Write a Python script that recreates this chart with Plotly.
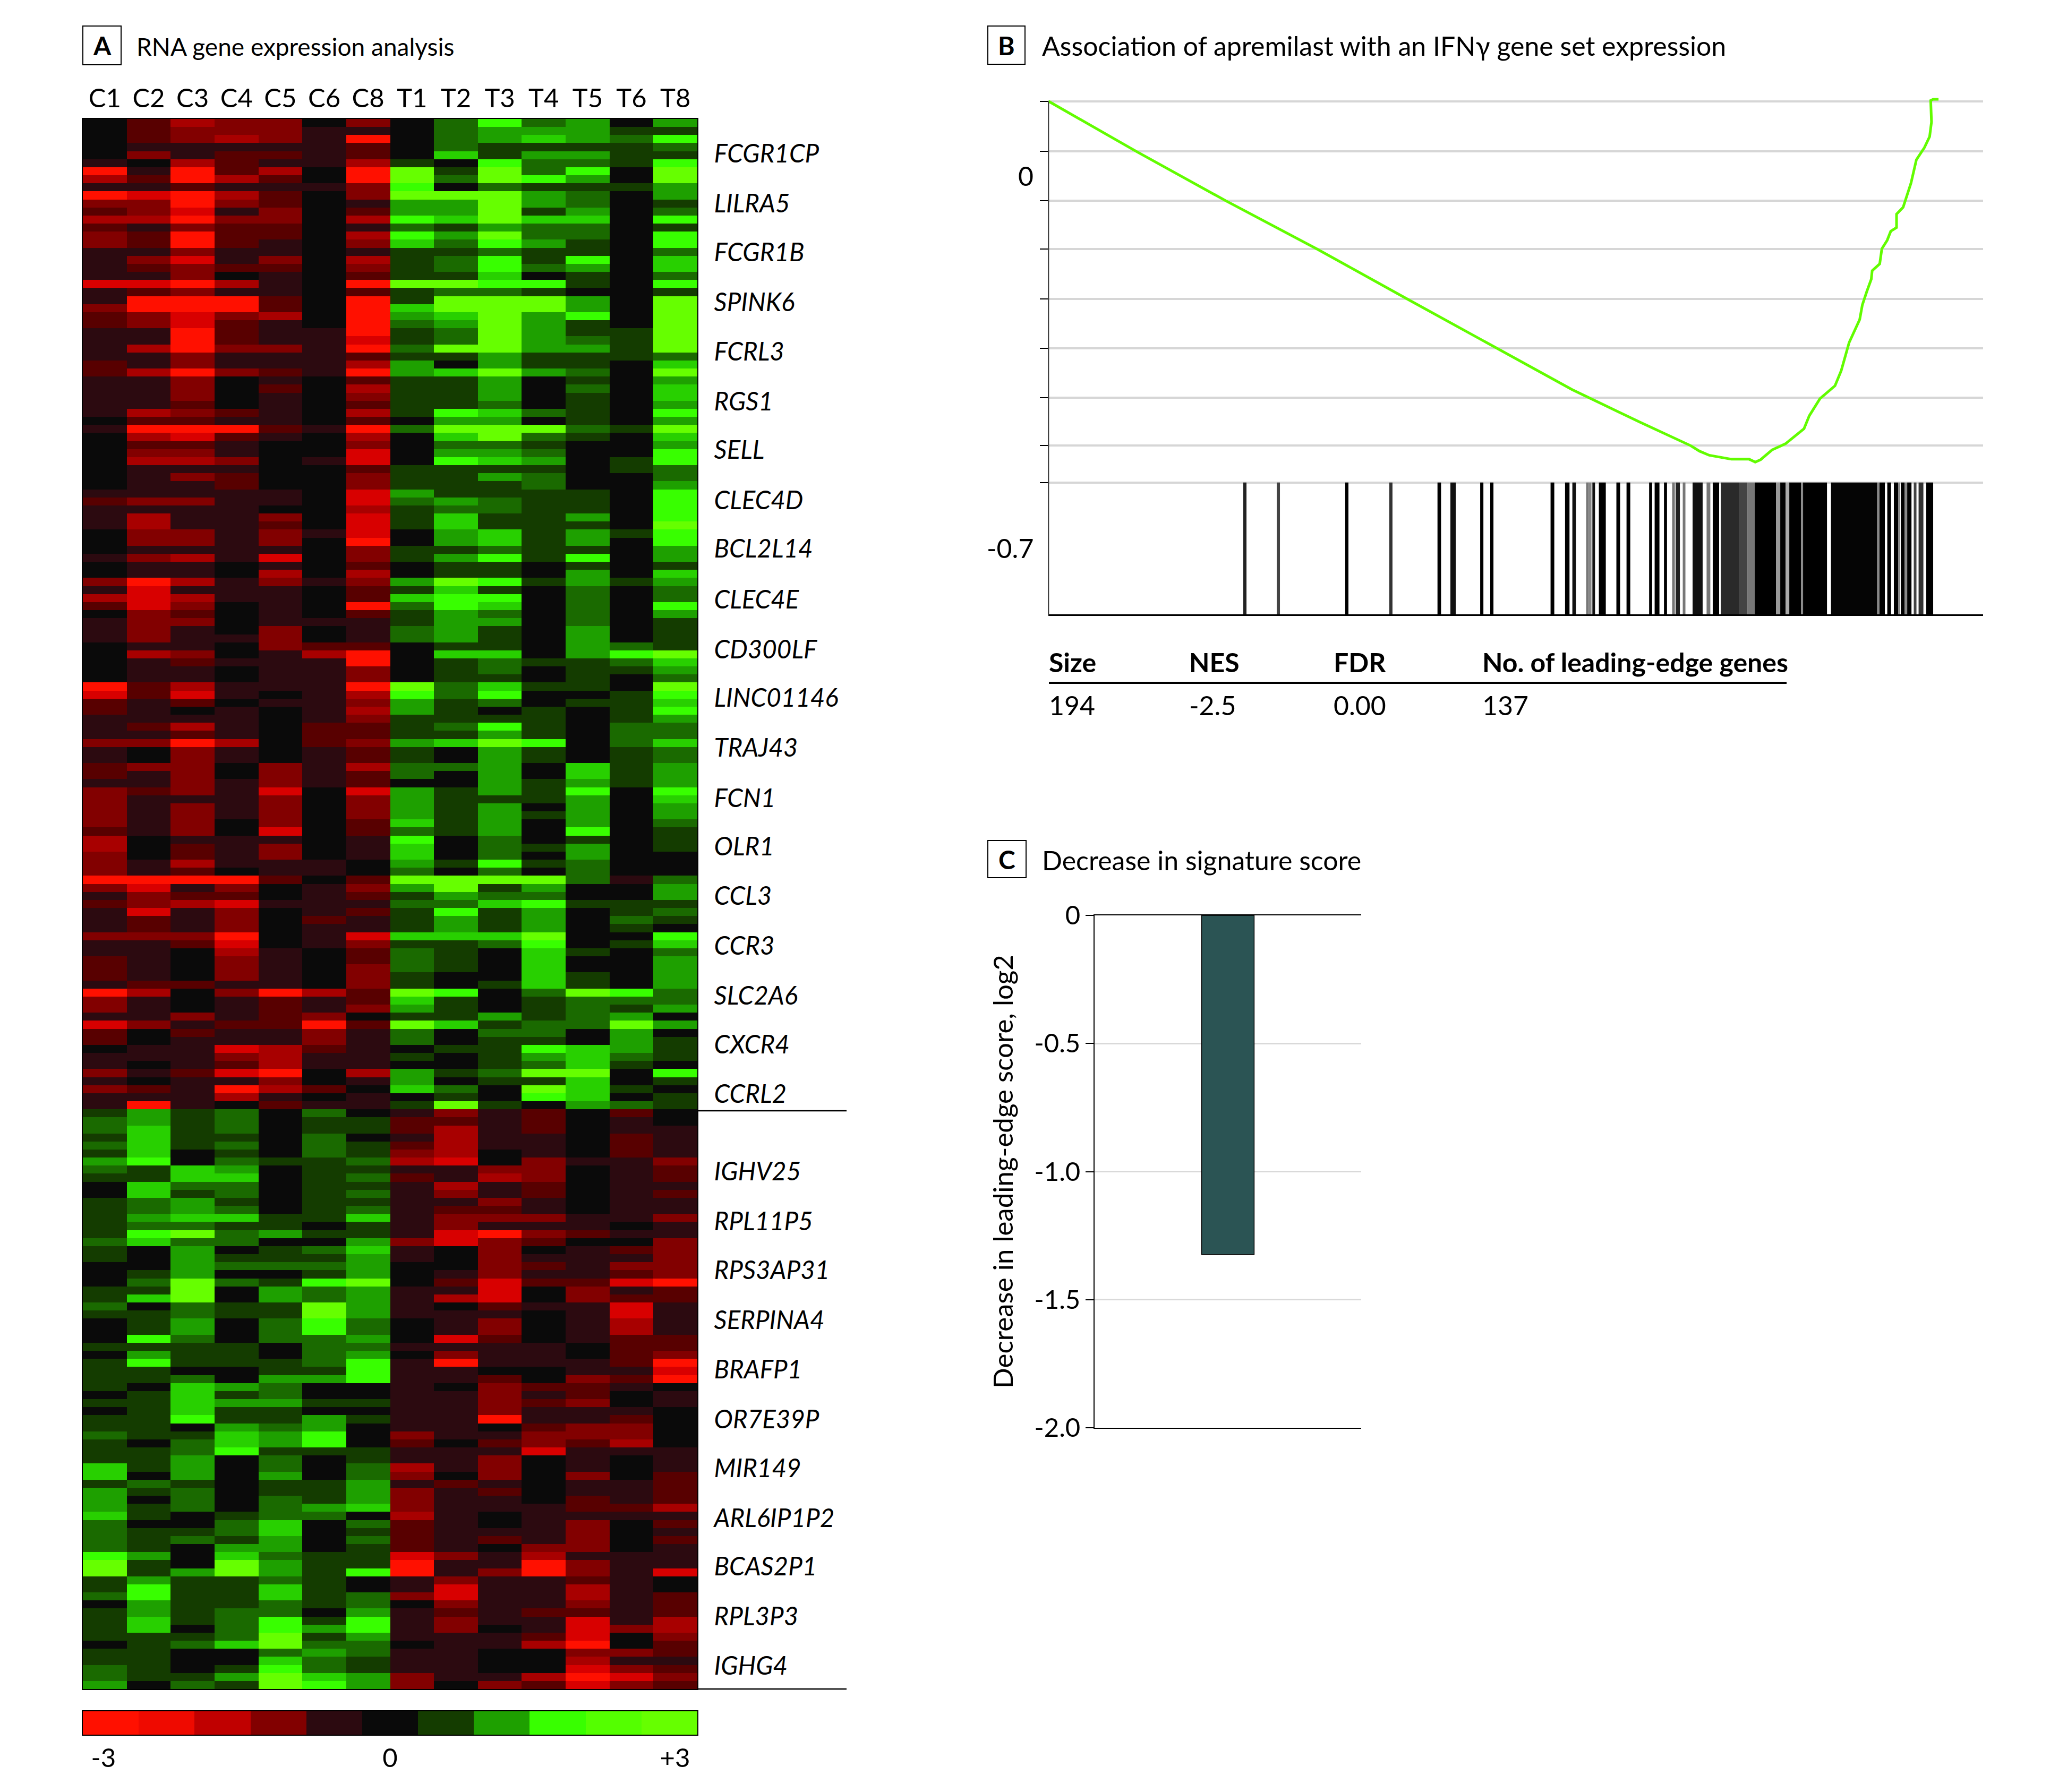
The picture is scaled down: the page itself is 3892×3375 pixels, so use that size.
import plotly.graph_objects as go

W, H = 3892, 3375
FONT = "Lato, Roboto, sans-serif"

SAMPLES = ["C1", "C2", "C3", "C4", "C5", "C6", "C8", "T1", "T2", "T3", "T4", "T5", "T6", "T8"]

# expression level per row, in half units (-6 = -3, +6 = +3)
ROWS_UPPER = [
[0,-2,-4,-3,-3,0,-3,0,2,5,2,3,0,3],[0,-2,-3,-3,-3,-1,-1,0,2,3,3,3,1,1],[0,-2,-3,-4,-3,-1,-6,0,2,3,4,3,2,5],
[0,-1,-1,-1,-1,-1,-2,0,2,1,1,1,1,2],[0,-3,-1,-2,-2,-1,-2,0,4,1,3,3,1,1],[-1,0,-4,-2,-1,-1,-4,1,0,5,2,2,1,5],
[-6,-1,-6,-2,-4,0,-6,6,1,6,2,5,0,6],[-4,-2,-6,-4,-2,0,-6,6,2,6,5,3,0,6],[-1,-1,-2,-1,-1,-1,-3,5,0,2,1,1,1,3],
[-6,-5,-6,-4,-2,0,-3,6,6,6,3,2,0,3],[-3,-3,-6,-3,-2,0,-1,3,3,6,3,2,0,1],[-2,-3,-5,-1,-3,0,-2,3,3,6,1,3,0,2],
[-4,-4,-6,-3,-3,0,-4,5,4,6,4,4,0,5],[-2,-1,-3,-2,-2,0,-1,2,1,3,2,2,0,1],[-3,-2,-6,-2,-2,0,-4,5,3,6,2,2,0,5],
[-3,-2,-6,-2,-1,0,-3,4,2,5,3,1,0,5],[-1,-1,-3,-1,-1,0,-1,1,1,2,1,1,0,2],[-1,-3,-5,-1,-3,0,-4,1,2,5,1,5,0,4],
[-1,-2,-3,-2,-2,0,-3,1,2,5,2,3,0,4],[-1,-1,-3,0,-1,0,-2,1,1,4,0,1,0,2],[-5,-5,-6,-4,-1,0,-6,6,6,5,5,1,0,5],
[-1,-2,-3,-1,-1,0,-2,1,2,2,1,0,0,1],[-1,-6,-6,-6,-2,0,-6,1,6,6,6,3,0,6],[-3,-6,-6,-6,-2,0,-6,4,6,6,6,3,0,6],
[-2,-3,-5,-3,-4,0,-6,3,4,6,3,5,0,6],[-2,-3,-5,-2,-1,0,-6,2,3,6,3,1,0,6],[-1,-1,-6,-2,-1,-1,-6,1,2,6,3,1,1,6],
[-1,-1,-6,-2,-1,-1,-5,1,2,6,3,2,1,6],[-1,-4,-6,-3,-3,-1,-6,2,6,6,3,3,1,6],[-1,-1,-3,-1,-1,-1,-2,1,1,3,1,1,1,2],
[-2,-1,-3,-1,-1,-1,-4,3,0,3,1,1,0,4],[-2,-4,-6,-3,-2,-1,-6,3,4,6,3,2,0,6],[-1,-1,-3,0,-1,0,-2,1,1,3,0,1,0,3],
[-1,-1,-3,0,-2,0,-4,1,1,3,0,2,0,4],[-1,-1,-3,0,-1,0,-3,1,1,3,0,1,0,4],[-1,-1,-2,0,-1,0,-2,1,1,2,0,1,0,3],
[-1,-4,-3,-2,-1,0,-4,1,5,4,2,1,0,5],[0,-2,-2,-1,-1,0,-2,0,3,3,0,1,0,3],[-1,-6,-6,-6,-2,-1,-6,2,6,6,6,2,1,6],
[0,-4,-5,-2,-1,0,-4,0,4,6,2,1,0,4],[0,-2,-2,-1,0,0,-3,0,2,2,1,0,0,3],[0,-3,-3,-1,0,0,-5,0,3,3,2,0,0,5],
[0,-4,-4,-3,0,-1,-5,0,5,4,3,0,1,5],[0,-1,-1,-1,0,0,-2,1,1,1,1,0,1,2],[0,-1,-3,-2,0,0,-3,1,1,3,2,0,0,2],
[0,-1,-1,-2,0,0,-3,1,1,1,2,0,0,3],[-1,-1,-1,-1,-1,0,-5,3,1,1,1,1,0,5],[-2,-3,-3,-1,-1,0,-5,2,3,2,1,1,0,5],
[-1,-1,-1,-1,0,0,-4,1,2,2,1,1,0,5],[-1,-4,-1,-1,-3,0,-5,1,4,1,1,3,0,5],[-1,-4,-1,-1,-2,0,-5,1,4,1,1,1,0,6],
[0,-3,-3,-1,-3,-1,-5,0,3,4,1,3,1,5],[0,-3,-3,-1,-3,0,-6,0,3,4,1,3,0,5],[0,-1,-1,-1,-1,0,-3,1,1,2,1,1,0,3],
[-1,-3,-4,-1,-5,0,-3,1,3,5,1,5,0,3],[0,-1,-1,0,-1,0,-2,0,1,1,0,1,0,1],[0,-1,-1,0,-4,0,-4,0,1,1,0,3,0,4],
[-3,-6,-4,-1,-3,-1,-3,3,6,5,1,3,1,3],[-1,-5,-1,-1,-1,0,-2,1,4,1,0,2,0,2],[-4,-5,-4,-1,-1,0,-2,4,5,5,0,2,0,2],
[-2,-5,-3,0,-1,0,-6,2,5,4,0,2,0,5],[0,-3,-2,0,-1,0,-2,1,3,2,0,2,0,3],[-1,-3,-3,0,-1,-1,-1,1,3,3,0,2,0,1],
[-1,-3,-1,0,-3,0,-1,2,3,1,0,3,0,1],[-1,-3,-1,-1,-3,0,-1,2,3,1,0,3,0,1],[0,-1,-1,0,-3,-2,-2,0,1,1,0,3,2,1],
[0,-4,-3,0,-1,-4,-6,0,4,4,0,3,5,6],[0,-1,-2,-1,-1,-1,-6,0,1,2,1,1,2,4],[0,-1,-1,0,-1,-1,-3,0,1,2,0,1,1,3],
[0,-1,-1,0,-1,-1,-3,0,1,1,0,1,0,2],[-6,-2,-4,-1,-1,-1,-6,6,2,4,1,1,0,6],[-5,-2,-5,-1,0,-1,-4,5,2,5,0,0,1,5],
[-2,-1,-2,0,-1,-1,-3,3,1,2,0,1,1,4],[-2,-1,0,-1,0,-1,-4,3,1,0,1,0,1,5],[-1,-1,-1,-1,0,-1,-3,1,1,1,1,0,1,3],
[-1,-2,-4,-1,0,-2,-2,1,2,5,1,0,2,2],[-1,-1,-2,-1,0,-2,-2,1,1,3,1,0,2,2],[-3,-3,-6,-4,0,-2,-3,3,4,6,5,0,2,4],
[-1,0,-3,-1,0,-1,-2,1,0,3,1,0,1,2],[-1,0,-3,-1,0,-1,-2,1,0,3,1,0,1,2],[-2,-3,-3,0,-3,-1,-4,2,2,3,0,4,1,3],
[-2,-1,-3,0,-3,-1,-2,2,0,3,0,4,1,3],[-1,-1,-3,-1,-3,-1,-2,0,0,3,1,3,1,3],[-3,-2,-3,-1,-5,0,-5,3,1,3,1,5,0,5],
[-3,-1,-1,-1,-3,0,-3,3,1,1,1,3,0,4],[-3,-1,-3,-1,-3,0,-3,3,1,3,0,3,0,3],[-3,-1,-3,-1,-3,0,-3,3,1,3,1,3,0,3],
[-3,-1,-3,0,-3,0,-2,4,1,3,0,3,0,2],[-2,-1,-3,0,-5,0,-2,2,1,3,0,5,0,1],[-4,0,-1,-1,-1,0,-1,5,0,2,0,1,0,1],
[-4,0,-2,-1,-3,0,-1,4,0,2,1,3,0,1],[-3,0,-2,-1,-3,0,-1,4,0,2,0,3,0,0],[-3,-1,-4,-1,-1,-1,0,3,1,5,1,2,0,0],
[-3,-1,-2,0,-1,-1,0,2,0,2,0,2,0,0],[-6,-6,-6,-6,-2,0,-2,6,6,6,6,2,-1,2],[-3,-5,-1,-3,0,-1,-3,3,6,1,3,0,0,3],
[-1,-3,-2,-2,0,-1,-2,1,3,2,2,0,0,3],[-2,-3,-4,-5,-1,-1,-1,2,2,4,5,1,1,1],[-1,-5,-1,-3,0,-1,-2,1,5,1,3,0,1,2],
[-1,-2,-1,-3,0,-2,-1,1,3,1,3,0,2,1],[-1,-2,-1,-3,0,-1,-1,1,3,1,3,0,1,0],[-3,-3,-3,-6,0,-1,-5,4,4,4,6,0,0,5],
[-1,-1,-2,-5,0,-1,-3,1,1,2,5,0,1,4],[-1,-1,0,-4,-1,0,-2,2,1,0,4,1,0,2],[-2,-1,0,-3,-1,0,-2,2,1,0,4,0,0,3],
[-2,-1,0,-3,-1,0,-3,2,1,0,4,0,0,3],[-2,-1,0,-3,-1,0,-3,1,0,0,4,1,0,3],[-1,-2,-2,-1,-1,0,-3,1,0,1,4,1,0,3],
[-6,-4,0,-3,-6,-4,-2,6,5,0,2,6,5,2],[-3,-1,0,-1,-2,-1,-2,4,1,0,1,2,2,2],[-3,-1,0,-1,-2,-1,-3,3,1,0,1,2,1,3],
[-1,-1,-3,-1,-2,-3,0,1,1,3,1,2,3,0],[-5,-3,-1,-2,-2,-6,-2,6,4,1,2,2,6,3],[-2,0,-2,-1,-1,-3,-1,2,0,2,2,0,3,0],
[-2,0,-1,-1,-1,-3,-1,2,0,1,1,0,3,1],[0,-1,-1,-5,-4,-2,-1,0,1,1,5,4,3,1],[-1,-1,-1,-3,-4,-1,-1,1,0,1,3,4,2,1],
[-1,0,-1,-2,-4,-1,-1,0,0,1,2,4,1,0],[-3,-1,-2,-5,-6,0,-4,3,1,2,6,6,0,5],[-1,0,-1,-1,-3,0,-1,3,0,1,1,4,0,1],
[-3,-2,-1,-6,-4,-2,0,4,2,0,6,4,1,0],[-1,-1,-1,-4,-1,0,-1,0,1,0,5,4,0,1],[-1,-6,-1,0,-2,-1,-1,1,6,1,0,3,2,1],
]
ROWS_LOWER = [
[1,3,1,2,0,2,0,-1,-3,-1,-2,0,-2,0],[2,3,1,2,0,1,1,-2,-2,-1,-2,0,-1,0],[2,4,1,2,0,1,1,-2,-4,-1,-2,0,-1,-1],
[1,4,1,1,0,2,0,-1,-4,-1,-1,0,-2,-1],[2,4,1,2,0,2,1,-2,-4,-1,-1,0,-2,-1],[1,4,0,1,0,2,1,-3,-4,0,-1,0,-2,-1],
[3,5,0,2,1,1,2,-4,-5,0,-3,-1,-1,-3],[2,1,4,3,0,1,1,-1,-1,-3,-3,0,-1,-2],[1,1,4,4,0,1,2,-2,-1,-4,-3,0,-1,-2],
[0,4,2,2,0,1,1,-1,-4,-1,-2,0,-1,-1],[0,4,1,2,0,1,2,-1,-3,-1,-2,0,-1,-2],[1,2,3,1,0,1,1,-1,-1,-3,-1,0,-1,-1],
[1,2,3,2,0,1,2,-1,-2,-2,-1,0,-1,-1],[1,3,4,4,1,1,4,-1,-3,-3,-3,-1,-1,-3],[1,2,2,1,1,0,1,-1,-3,-1,-1,-1,0,-1],
[1,5,6,2,3,1,1,-1,-5,-6,-3,-2,-1,-1],[2,4,2,2,0,0,3,-3,-5,-3,-2,0,0,-3],[1,0,3,0,1,2,4,-1,0,-3,0,-1,-2,-3],
[1,0,3,1,1,1,3,-1,0,-3,-1,-1,-1,-3],[0,0,3,2,2,2,3,0,0,-3,-2,-1,-3,-3],[0,1,3,0,0,1,3,0,-1,-3,-1,-1,-2,-3],
[0,2,6,2,1,5,6,0,-2,-5,-2,-2,-5,-6],[1,1,6,0,3,2,3,-1,-1,-5,0,-3,-1,-2],[1,4,6,0,3,2,3,-1,-4,-5,0,-3,-2,-2],
[2,0,2,1,1,6,3,-1,0,-2,-1,-1,-5,-1],[1,1,2,1,1,6,3,-1,-1,-1,0,-1,-5,-1],[0,1,3,0,2,5,2,0,-1,-3,0,-1,-4,-1],
[0,1,3,0,2,5,2,0,-1,-3,0,-1,-4,-1],[0,5,2,0,2,2,3,0,-5,-2,0,-1,-2,-2],[1,1,1,1,0,2,2,-1,-1,-1,-1,0,-2,-2],
[0,3,1,1,0,2,3,0,-3,-1,-1,0,-2,-3],[1,5,1,1,1,2,5,-1,-6,-1,-1,-1,-2,-6],[1,1,0,0,1,1,5,-1,-1,0,0,-1,-1,-5],
[1,1,2,0,3,3,5,-1,-1,-2,0,-3,-2,-6],[1,0,4,3,2,0,0,-1,0,-3,-2,-2,-1,0],[0,1,4,1,2,0,0,-1,-1,-3,-1,-2,0,-1],
[1,1,4,3,3,1,1,-1,-1,-3,-2,-3,0,-1],[0,1,4,1,1,0,0,-1,-1,-3,-1,-1,-1,0],[1,1,5,1,1,3,1,-1,-1,-6,-1,-1,-2,0],
[1,1,0,3,2,3,0,-1,-1,0,-2,-3,-3,0],[2,1,1,4,3,5,0,-3,-1,-1,-3,-3,-3,0],[1,0,2,4,3,5,0,-2,0,-2,-3,-2,-4,0],
[1,1,2,5,1,1,1,-1,-1,-1,-5,-1,-1,-1],[1,1,3,0,2,0,1,-1,-1,-3,0,-1,0,-1],[4,1,3,0,2,0,2,-4,-1,-3,0,-1,0,-1],
[4,0,3,0,3,0,2,-3,0,-3,0,-3,0,-2],[1,2,1,0,1,1,3,-1,-2,-1,0,-1,-1,-2],[3,1,2,0,1,1,3,-3,-1,-2,0,-1,-1,-2],
[3,0,2,0,2,1,3,-3,-1,-1,0,-2,-1,-2],[3,1,2,0,2,3,4,-3,-1,-1,-1,-2,-2,-4],[4,1,0,1,2,2,0,-4,-1,0,-1,-1,-1,-1],
[2,0,0,2,4,0,2,-2,-1,0,-1,-3,0,-2],[2,1,1,2,4,0,1,-2,-1,-1,-1,-3,0,-1],[2,1,2,1,3,0,2,-2,-1,-2,-1,-3,0,-2],
[2,1,0,3,3,0,1,-2,-1,0,-3,-3,0,-1],[5,3,0,4,2,1,1,-5,-3,-1,-4,-1,-1,-1],[6,1,0,6,3,1,1,-6,-1,-1,-6,-3,-1,-1],
[6,1,3,6,3,1,5,-6,-1,-3,-6,-3,-1,-5],[1,3,1,1,2,1,0,-1,-3,-1,-1,-2,-1,0],[1,5,1,1,4,1,0,-1,-5,-1,-1,-4,-1,0],
[2,5,1,1,4,1,2,-3,-5,-1,-1,-4,-1,-2],[0,3,1,1,2,1,2,0,-3,-1,-1,-3,-1,-2],[1,3,1,2,2,0,3,-1,-2,-1,-2,-2,-1,-2],
[1,4,1,2,5,1,5,-1,-3,-1,-1,-5,-1,-4],[1,4,0,2,5,3,5,-1,-3,0,-1,-5,-3,-4],[1,1,1,2,6,1,3,-1,-1,-1,-2,-5,0,-3],
[0,1,2,4,6,2,2,0,-1,-1,-4,-6,0,-2],[1,1,0,0,2,3,2,-1,-1,0,0,-3,-3,-2],[1,1,0,0,4,2,1,-1,-1,0,0,-4,-1,-1],
[2,1,0,1,5,2,1,-1,-1,0,0,-5,-3,-2],[2,1,1,3,6,4,3,-3,-1,-1,-4,-6,-5,-3],[3,0,2,1,6,5,3,-3,0,-3,-2,-5,-3,-2],
]

GENES = ["FCGR1CP", "LILRA5", "FCGR1B", "SPINK6", "FCRL3", "RGS1", "SELL", "CLEC4D", "BCL2L14", "CLEC4E", "CD300LF",
         "LINC01146", "TRAJ43", "FCN1", "OLR1", "CCL3", "CCR3", "SLC2A6", "CXCR4", "CCRL2",
         "IGHV25", "RPL11P5", "RPS3AP31", "SERPINA4", "BRAFP1", "OR7E39P", "MIR149", "ARL6IP1P2", "BCAS2P1", "RPL3P3", "IGHG4"]
GENE_ROWS = [3.8, 10.04, 16.1, 22.3, 28.4, 34.6, 40.6, 46.9, 52.9, 59.2, 65.4, 71.4, 77.6, 83.9, 89.9, 96, 102.2, 108.4,
             114.5, 120.6, 130.2, 136.4, 142.5, 148.7, 154.8, 161, 167.1, 173.3, 179.3, 185.5, 191.6]

LEVEL_COLORS = ["#ff1000", "#d80000", "#a80000", "#820000", "#580000", "#2c0a10", "#0a0a0a",
                "#143c00", "#1a6a00", "#1ea000", "#28d000", "#38ff00", "#66ff00"]
LEGEND_LEVELS = [-6, -5.6, -4.5, -3, -1, 0, 1, 3, 5, 5.6, 6]
LEGEND_TICKS = [-0.13, 5, 10.1]
LEGEND_LABELS = ["-3", "0", "+3"]

# Panel B: running enrichment score against percent of the ranked list
ES_RANK = [0, 9.91, 19.92, 30.2, 40.3, 50.39, 58.87, 66.49, 72.2, 73.19, 74.29, 76.78, 78.77, 79.46, 80.06, 81.35, 82.85,
           84.94, 85.53, 86.73, 88.42, 89.12, 90.01, 91.2, 91.5, 92, 92.5, 92.6, 93.45, 93.69, 94.29, 94.69, 95.34, 95.34,
           96.08, 96.97, 97.57, 98.47, 99.06, 99.27, 99.18, 99.46, 100.06]
ES_VALUE = [.1404, .0456, -.0468, -.1377, -.2314, -.3246, -.4022, -.4635, -.5077, -.5180, -.5258, -.5332, -.5332, -.5386,
            -.5341, -.5157, -.5042, -.4758, -.4515, -.4194, -.3951, -.3666, -.3139, -.2703, -.2428, -.2176, -.1946, -.1786,
            -.1657, -.1373, -.1213, -.1043, -.0974, -.0721, -.0593, -.0135, .0301, .0530, .0737, .1012, .1416, .1439, .1439]
HIT_RANK = [22.09, 25.85, 33.55, 38.5, 43.94, 45.49, 48.72, 49.85, 56.66, 58.33, 59.1, 60.6, 60.9, 61.3, 62.27, 64.06, 65.2,
            67.7, 68.42, 69.37, 70.27, 70.75, 71.46, 72.98, 74.2, 75.04, 76.6, 78.09, 78.99, 80.6, 82.03, 82.57, 83.07,
            83.94, 84.72, 86.18, 90.57, 93.31, 93.73, 94.51, 95.28, 95.64, 96.03, 96.39, 96.78, 97.43, 98.09, 99.07]
HIT_WIDTH = [.36, .36, .36, .36, .4, .6, .36, .36, .42, .5, .4, .3, .3, .3, .78, .42, .42,
             .34, .54, .34, .3, .48, .3, 1.13, .42, .72, 2.03, .96, .84, 2.39, .48, .6, .42,
             1.31, .24, 2.69, 5.19, .24, .6, .42, .48, .24, .42, .3, .48, .3, .54, .78]
HIT_SHADE = ["#222", "#444", "#000", "#333", "#000", "#111", "#000", "#000", "#000", "#000", "#111", "#777", "#888", "#111",
             "#000", "#000", "#000", "#000", "#000", "#000", "#777", "#222", "#777", "#111", "#777", "#000", "#2a2a2a", "#444",
             "#777", "#000", "#999", "#000", "#aaa", "#000", "#888", "#000", "#050505", "#888", "#000", "#000", "#000",
             "#888", "#000", "#888", "#000", "#444", "#333", "#000"]
ES_GRID = [.1404, .0456, -.0468, -.1377, -.2314, -.3246, -.4176, -.5077, -.577]
HIT_TOP = -0.577
ES_BOTTOM = -0.825
ES_TOP = 0.1489
TABLE_HEAD = ["Size", "NES", "FDR", "No. of leading-edge genes"]
TABLE_VALS = ["194", "-2.5", "0.00", "137"]

# Panel C
SCORE = [-1.324]
SCORE_TICKS = [0, -0.5, -1.0, -1.5, -2.0]
SCORE_LABELS = ["0", "-0.5", "-1.0", "-1.5", "-2.0"]


def fx(px):
    return px / W


def fy(py):
    return 1 - py / H


fig = go.Figure()
scale = [[i / 12, c] for i, c in enumerate(LEVEL_COLORS)]
matrix = ROWS_UPPER + ROWS_LOWER

fig.add_trace(go.Heatmap(z=matrix, x=SAMPLES, y=list(range(len(matrix))), zmin=-6, zmax=6, colorscale=scale,
                         showscale=False, hoverinfo="skip", xaxis="x", yaxis="y"))
fig.add_trace(go.Heatmap(z=[LEGEND_LEVELS], zmin=-6, zmax=6, colorscale=scale, showscale=False, hoverinfo="skip",
                         xaxis="x2", yaxis="y2"))
fig.add_trace(go.Bar(x=HIT_RANK, width=HIT_WIDTH, base=ES_BOTTOM, y=[HIT_TOP - ES_BOTTOM] * len(HIT_RANK),
                     marker=dict(color=HIT_SHADE, line_width=0), xaxis="x3", yaxis="y3", hoverinfo="skip"))
fig.add_trace(go.Scatter(x=ES_RANK, y=ES_VALUE, mode="lines", line=dict(color="#62fc00", width=5),
                         xaxis="x3", yaxis="y3", hoverinfo="skip"))
fig.add_trace(go.Bar(x=[0.5], y=SCORE, width=0.197, marker=dict(color="#2b5454", line=dict(color="#000", width=1.5)),
                     xaxis="x4", yaxis="y4", hoverinfo="skip"))

line = dict(showline=True, linecolor="#000", automargin=False)
fig.update_layout(
    width=W, height=H, autosize=False, margin=dict(l=0, r=0, t=0, b=0, pad=0), paper_bgcolor="white",
    plot_bgcolor="white", showlegend=False, font=dict(family=FONT, size=50, color="#000"), barmode="overlay",
    xaxis=dict(domain=[fx(156), fx(1313)], side="top", type="category", ticks="", anchor="y", mirror=True,
               linewidth=2, ticklabelstandoff=0, tickfont=dict(size=49), showgrid=False, **line),
    yaxis=dict(domain=[fy(3181), fy(224)], side="right", range=[len(matrix) - 0.5, -0.5], anchor="x", mirror=True,
               linewidth=2, tickmode="array", tickvals=GENE_ROWS, ticktext=[f"<i>{g}</i>" for g in GENES], ticks="",
               ticklabelstandoff=20, tickfont=dict(size=47.5), showgrid=False, zeroline=False, **line),
    xaxis2=dict(domain=[fx(156), fx(1313)], anchor="y2", range=[-0.5, 10.5], tickmode="array", tickvals=LEGEND_TICKS,
                ticktext=LEGEND_LABELS, ticks="", ticklabelstandoff=0, mirror=True, linewidth=2, showgrid=False,
                zeroline=False, tickfont=dict(size=49), **line),
    yaxis2=dict(domain=[fy(3267), fy(3223)], anchor="x2", showticklabels=False, ticks="", mirror=True, linewidth=2,
                showgrid=False, zeroline=False, **line),
    xaxis3=dict(domain=[fx(1974), fx(3734)], anchor="y3", range=[0, 105.07], showticklabels=False, ticks="",
                showgrid=False, zeroline=False, linewidth=3, **line),
    yaxis3=dict(domain=[fy(1157), fy(182)], anchor="x3", range=[ES_BOTTOM, ES_TOP], tickmode="array",
                tickvals=ES_GRID, showticklabels=False, ticks="outside", ticklen=15, tickwidth=2, tickcolor="#000",
                showgrid=True, gridcolor="#d6d6d6", gridwidth=3.5, zeroline=False, showline=False, automargin=False),
    xaxis4=dict(domain=[fx(2061), fx(2563)], anchor="y4", range=[0, 1], showticklabels=False, ticks="", mirror=True,
                showgrid=False, zeroline=False, linewidth=2, **line),
    yaxis4=dict(domain=[fy(2689), fy(1724)], anchor="x4", range=[-2, 0], tickmode="array", tickvals=SCORE_TICKS,
                ticktext=SCORE_LABELS, ticks="outside", ticklen=15, tickwidth=2, tickcolor="#000", showgrid=True,
                gridcolor="#d9d9d9", gridwidth=3, zeroline=False, linewidth=2, tickfont=dict(size=49), **line,
                title=dict(text="Decrease in leading-edge score, log2", font=dict(size=51), standoff=24)),
)


def text(px, py, s, size=50, anchor="left", bold=False):
    fig.add_annotation(xref="paper", yref="paper", x=fx(px), y=fy(py), text=f"<b>{s}</b>" if bold else s,
                       showarrow=False, xanchor=anchor, yanchor="middle", font=dict(size=size), borderpad=0, borderwidth=0)


def rule(x0, y0, x1, y1, width=2.5):
    fig.add_shape(type="line", xref="paper", yref="paper", x0=fx(x0), y0=fy(y0), x1=fx(x1), y1=fy(y1),
                  line=dict(color="#000", width=width))


for (x0, y0, x1, y1, letter, tx, ty, title, size) in [
    (156, 49, 228, 122, "A", 257, 87, "RNA gene expression analysis", 46),
    (1860, 49, 1930, 121, "B", 1962, 86, "Association of apremilast with an IFNγ gene set expression", 50),
    (1860, 1583, 1932, 1653, "C", 1962, 1620, "Decrease in signature score", 50),
]:
    fig.add_shape(type="rect", xref="paper", yref="paper", x0=fx(x0), y0=fy(y0), x1=fx(x1), y1=fy(y1),
                  line=dict(color="#000", width=2))
    text((x0 + x1) / 2, (y0 + y1) / 2, letter, 48, "center", True)
    text(tx, ty, title, size)

rule(1313, 2092, 1594, 2092)
rule(1313, 3181, 1594, 3181)
rule(1975, 1286, 3364, 1286, 4)

# left axis of panel B stops at the top gridline while the curve runs just above it
fig.add_shape(type="line", xref="x3", yref="y3", x0=0, x1=0, y0=ES_BOTTOM, y1=ES_GRID[0], line=dict(color="#000", width=2.5))

fig.add_annotation(xref="paper", yref="y3", x=fx(1948), y=0, text="0", showarrow=False, xanchor="right", font=dict(size=50))
fig.add_annotation(xref="paper", yref="y3", x=fx(1948), y=-0.7, text="-0.7", showarrow=False, xanchor="right", font=dict(size=50))

for px, head, val in zip([1975, 2239, 2511, 2791], TABLE_HEAD, TABLE_VALS):
    text(px, 1247, head, 50, bold=True)
    text(px, 1328, val, 50)

fig.write_html("out.html", config={"displayModeBar": False},
               post_script="document.body.style.margin='0';document.documentElement.style.overflow='hidden';")
